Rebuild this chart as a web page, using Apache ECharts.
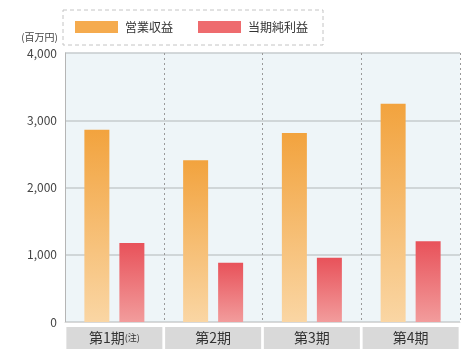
<!DOCTYPE html>
<html>
<head>
<meta charset="utf-8">
<script src="https://cdn.jsdelivr.net/npm/echarts@6/dist/echarts.min.js"></script>
<style>
  html, body { margin: 0; padding: 0; background: #fff; }
  #chart { width: 461px; height: 349px; }
</style>
</head>
<body>
<div id="chart"></div>
<script>
// 決算期
const periods = ['第1期(注)', '第2期', '第3期', '第4期'];
// 営業収益（百万円）
const operatingRevenue = [2860, 2405, 2810, 3245];
// 当期純利益（百万円）
const netIncome = [1175, 880, 955, 1200];
// 縦軸目盛り
const yTicks = [0, 1000, 2000, 3000, 4000];
const seriesNames = ['営業収益', '当期純利益'];

const FONT = '"Noto Sans CJK JP", "Noto Sans", sans-serif';
const chart = echarts.init(document.getElementById('chart'), null, { renderer: 'canvas' });

function grad(top, bottom) {
  return new echarts.graphic.LinearGradient(0, 0, 0, 1, [
    { offset: 0, color: top },
    { offset: 1, color: bottom }
  ]);
}

chart.setOption({
  animation: false,
  backgroundColor: '#ffffff',
  textStyle: { fontFamily: FONT },
  graphic: [
    {
      type: 'rect',
      shape: { x: 63, y: 10, width: 260, height: 35 },
      style: { fill: 'none', stroke: '#c4c4c4', lineWidth: 1, lineDash: [4, 3] },
      z: 0
    },
    {
      type: 'text',
      right: 461 - 58,
      top: 32,
      style: { text: '(百万円)', fontSize: 10, fill: '#444', fontFamily: FONT }
    }
  ],
  legend: {
    left: 70,
    top: 16,
    itemWidth: 43,
    itemHeight: 12,
    itemGap: 25,
    icon: 'rect',
    data: [
      { name: seriesNames[0], itemStyle: { color: '#f5ab4e' } },
      { name: seriesNames[1], itemStyle: { color: '#ee6b6e' } }
    ],
    textStyle: { fontSize: 12, color: '#333', fontFamily: FONT, padding: [0, 0, 0, 2] }
  },
  grid: {
    left: 65,
    top: 53,
    width: 400,
    height: 269,
    show: true,
    backgroundColor: '#eef5f8',
    borderWidth: 0
  },
  xAxis: {
    type: 'category',
    data: periods,
    axisTick: { show: false },
    axisLine: { show: true, lineStyle: { color: '#d8d8d8' } },
    splitLine: { show: true, lineStyle: { type: [2, 3], color: '#9a9a9a', width: 1 } },
    axisLabel: {
      margin: 5,
      interval: 0,
      formatter: function (v) {
        const m = v.match(/^(.*?)(\(注\))?$/);
        return m[2] ? '{a|' + m[1] + '}{n|' + m[2] + '}' : '{a|' + v + '}';
      },
      width: 96,
      height: 22,
      backgroundColor: '#d9d9d9',
      align: 'center',
      lineHeight: 22,
      rich: {
        a: { fontSize: 14, color: '#333', fontFamily: FONT, lineHeight: 22 },
        n: { fontSize: 9, color: '#333', fontFamily: FONT, lineHeight: 22 }
      }
    }
  },
  yAxis: {
    type: 'value',
    min: yTicks[0],
    max: yTicks[yTicks.length - 1],
    interval: 1000,
    axisLine: { show: true, lineStyle: { color: '#b5b5b5' } },
    axisTick: { show: false },
    splitLine: { show: true, lineStyle: { color: '#c6cbce', width: 1.5 } },
    axisLabel: {
      margin: 8,
      fontSize: 12,
      color: '#444',
      fontFamily: FONT,
      formatter: function (v) { return v.toLocaleString('en-US'); }
    }
  },
  series: [
    {
      name: seriesNames[0],
      type: 'bar',
      data: operatingRevenue,
      barWidth: 25,
      barGap: '40%',
      itemStyle: { color: grad('#f2a33e', '#fad6a4') }
    },
    {
      name: seriesNames[1],
      type: 'bar',
      data: netIncome,
      barWidth: 25,
      itemStyle: { color: grad('#e8525a', '#f29c9c') }
    }
  ]
});
</script>
</body>
</html>
